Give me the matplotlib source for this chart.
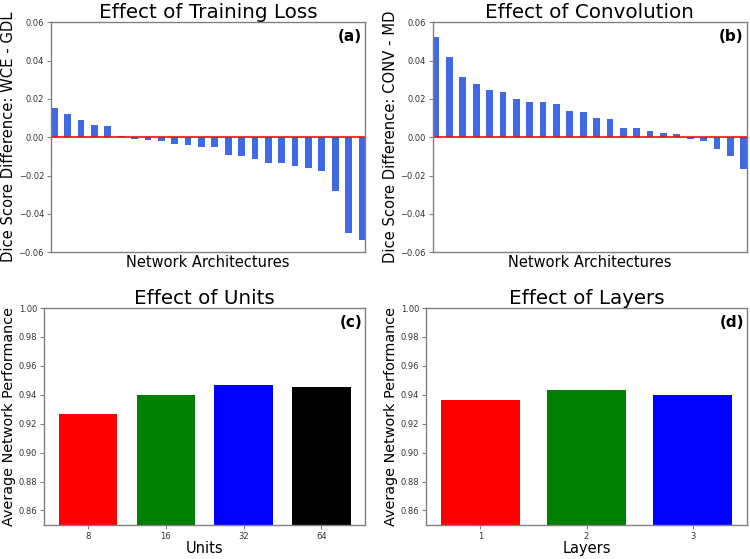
import numpy as np
import matplotlib
matplotlib.use('Agg')
import matplotlib.pyplot as plt

# Dice score differences per network architecture (sorted)
lossDiff = [0.0155, 0.0122, 0.0092, 0.0063, 0.0057, 0.0006,
            -0.0010, -0.0015, -0.0020, -0.0035, -0.0040, -0.0050,
            -0.0050, -0.0093, -0.0098, -0.0113, -0.0135, -0.0135,
            -0.0150, -0.0160, -0.0178, -0.0280, -0.0498, -0.0538]
convDiff = [0.0525, 0.0418, 0.0313, 0.0280, 0.0245, 0.0235,
            0.0200, 0.0182, 0.0182, 0.0175, 0.0135, 0.0132,
            0.0100, 0.0097, 0.0048, 0.0048, 0.0030, 0.0020,
            0.0015, -0.0008, -0.0020, -0.0060, -0.0098, -0.0168]

units = ['8', '16', '32', '64']
unitsPerf = [0.927, 0.940, 0.947, 0.9455]
layers = [1, 2, 3]
layersPerf = [0.9365, 0.943, 0.940]

spineColor = '#808080'


def styleAxes(ax):
    for sp in ax.spines.values():
        sp.set_color(spineColor)
        sp.set_linewidth(1.0)
    ax.tick_params(colors=spineColor, labelcolor='#333333', labelsize=6,
                   width=0.8, length=3, pad=2)


def diffPanel(ax, values, title, ylabel, tag):
    x = np.arange(len(values))
    ax.bar(x, values, width=0.5, color='royalblue')
    ax.axhline(0, color='red', linewidth=1.5, alpha=0.8)
    ax.set_xlim(-0.25, len(values) - 0.75)
    ax.set_ylim(-0.06, 0.06)
    ax.set_yticks(np.arange(-0.06, 0.061, 0.02))
    ax.set_xticks([])
    ax.set_title(title, fontsize=14.3, pad=3)
    ax.set_ylabel(ylabel, fontsize=10.6, labelpad=2)
    ax.set_xlabel('Network Architectures', fontsize=10.5, labelpad=2)
    ax.text(0.99, 0.97, tag, transform=ax.transAxes, ha='right', va='top',
            fontsize=11, fontweight='bold')
    styleAxes(ax)


def perfPanel(ax, x, values, labels, title, xlabel, tag):
    colors = ['red', 'green', 'blue', 'black'][:len(values)]
    ax.bar(x, values, width=0.75, color=colors)
    ax.set_ylim(0.85, 1.0)
    ax.set_yticks(np.arange(0.86, 1.001, 0.02))
    ax.set_xticks(x)
    ax.set_xticklabels(labels)
    ax.set_title(title, fontsize=14.3, pad=3)
    ax.set_ylabel('Average Network Performance', fontsize=10.4, labelpad=2)
    ax.set_xlabel(xlabel, fontsize=10.5, labelpad=0)
    ax.text(0.99, 0.97, tag, transform=ax.transAxes, ha='right', va='top',
            fontsize=11, fontweight='bold')
    styleAxes(ax)


fig = plt.figure(figsize=(7.5, 5.59), dpi=100)

ax1 = fig.add_axes([0.068, 0.549, 0.419, 0.411])
ax2 = fig.add_axes([0.577, 0.549, 0.419, 0.411])
ax3 = fig.add_axes([0.059, 0.061, 0.428, 0.388])
ax4 = fig.add_axes([0.568, 0.061, 0.428, 0.388])

diffPanel(ax1, lossDiff, 'Effect of Training Loss',
          'Dice Score Difference: WCE - GDL', '(a)')
diffPanel(ax2, convDiff, 'Effect of Convolution',
          'Dice Score Difference: CONV - MD', '(b)')
perfPanel(ax3, np.arange(len(units)), unitsPerf, units,
          'Effect of Units', 'Units', '(c)')
perfPanel(ax4, np.array(layers), layersPerf, [str(l) for l in layers],
          'Effect of Layers', 'Layers', '(d)')

fig.savefig('out.png', dpi=100)
